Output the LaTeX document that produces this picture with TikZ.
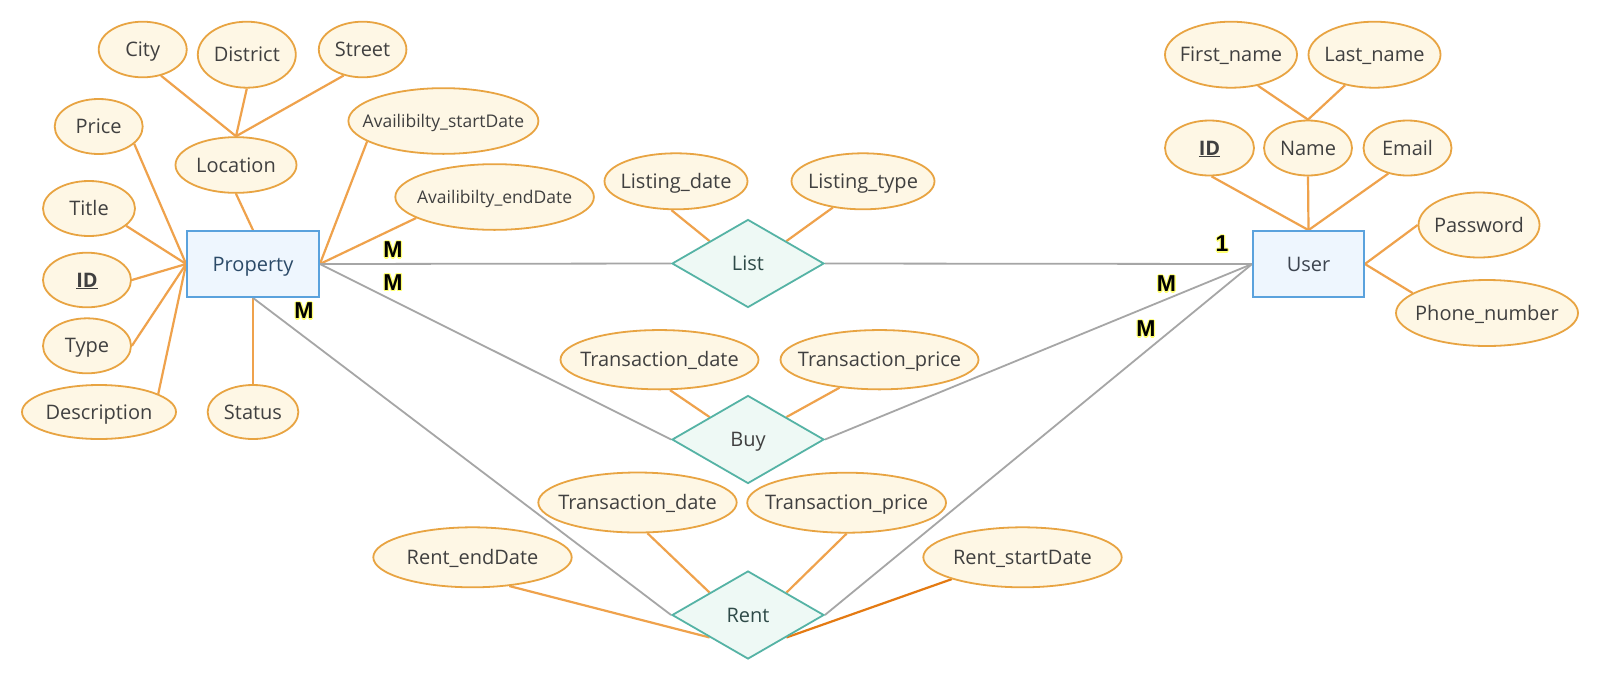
\documentclass[tikz,border=0pt]{standalone}
\usepackage{fontspec}
\setmainfont{Open Sans}
\newfontfamily\cardfont{Liberation Sans}
\usetikzlibrary{shapes.geometric,backgrounds}
\definecolor{attrfill}{HTML}{FEF7E5}
\definecolor{attrdraw}{HTML}{E8A442}
\definecolor{conn}{HTML}{EFA24C}
\definecolor{conndark}{HTML}{E47A12}
\definecolor{entfill}{HTML}{EEF6FE}
\definecolor{entdraw}{HTML}{5AA2DD}
\definecolor{relfill}{HTML}{EEF9F5}
\definecolor{reldraw}{HTML}{55B3A5}
\definecolor{grayline}{HTML}{A6A6A6}
\definecolor{txt}{HTML}{404040}
\definecolor{proptxt}{HTML}{2B4A68}
\definecolor{usertxt}{HTML}{3D4550}
\definecolor{reltxt}{HTML}{2E4A48}
\definecolor{halo}{HTML}{FFFF70}
\tikzset{
  attr/.style={ellipse, draw=attrdraw, fill=attrfill, line width=1.8pt, inner sep=0pt},
  attrtext/.style={font=\fontsize{20}{24}\selectfont, text=txt, inner sep=0pt,
    text height=14.3pt, text depth=0pt},
  smalltext/.style={font=\fontsize{17.5}{21}\selectfont, text=txt, inner sep=0pt,
    text height=12.5pt, text depth=0pt},
  entity/.style={rectangle, draw=entdraw, fill=entfill, line width=1.8pt, inner sep=0pt,
    minimum height=66pt, font=\fontsize{20}{24}\selectfont, text height=14.3pt, text depth=0pt},
  rel/.style={diamond, draw=reldraw, fill=relfill, line width=1.8pt, inner sep=0pt,
    minimum width=152pt, minimum height=88pt, font=\fontsize{20}{24}\selectfont,
    text height=14.3pt, text depth=0pt},
  aline/.style={draw=conn, line width=2.2pt},
  rline/.style={draw=grayline, line width=1.8pt},
  card/.style={font=\cardfont\bfseries\fontsize{23}{27}\selectfont, inner sep=0pt},
}
\newcommand\attrib[6][attrtext]{%
  \node[attr, minimum width=#4pt, minimum height=#5pt] (#2) at (#3) {};
  \node[#1] (#2-t) at (#2.center) {#6};}
\newcommand\cardlabel[3]{%
  \foreach \dx/\dy [count=\i] in {-1.2/0,1.2/0,0/-1.2,0/1.2,-0.85/-0.85,0.85/-0.85,-0.85/0.85,0.85/0.85}{
    \node[card, text=halo, xshift=\dx pt, yshift=\dy pt] (#1-h\i) at (#2) {#3};}
  \node[card, text=black] (#1) at (#2) {#3};}
\begin{document}
\begin{tikzpicture}[x=1pt, y=-1pt]
\useasboundingbox (0,0) rectangle (1600,681);
% entities
\node[entity, minimum width=132pt, text=proptxt] (P) at (253,264) {Property};
\node[entity, minimum width=111pt, text=usertxt] (U) at (1308.5,264) {User};
% relationships
\node[rel, text=reltxt] (L) at (748,263.5) {List};
\node[rel, text=txt] (B) at (748,439.5) {Buy};
\node[rel, text=reltxt] (R) at (748,615) {Rent};
% property attributes
\attrib{city}{142.7,49.5}{88}{55.6}{City}
\attrib{district}{246.8,54.7}{98}{66}{District}
\attrib{street}{362.6,49.5}{87.6}{55.6}{Street}
\attrib{price}{98.7,126.5}{88}{55}{Price}
\attrib{location}{236,165}{121}{55.7}{Location}
\attrib[smalltext]{availS}{443.4,121}{190}{65.7}{Availibilty\_startDate}
\attrib[smalltext]{availE}{494.6,197}{198.6}{65.7}{Availibilty\_endDate}
\attrib{title}{89,208.5}{92}{55}{Title}
\attrib{pid}{87,280}{88}{54.6}{\textbf{\underline{ID}}}
\attrib{ptype}{87,345.8}{88}{55}{Type}
\attrib{desc}{99,412}{154}{54}{Description}
\attrib{status}{253,412}{90.7}{54}{Status}
% user attributes
\attrib{fname}{1231,54.7}{132}{66}{First\_name}
\attrib{lname}{1374.5,54.7}{132}{66}{Last\_name}
\attrib{uid}{1209.5,148}{89}{55}{\textbf{\underline{ID}}}
\attrib{uname}{1308,148}{88}{55}{Name}
\attrib{email}{1407.5,148}{88}{55}{Email}
\attrib{pwd}{1479,225}{121}{65}{Password}
\attrib{phone}{1487,313}{182}{66}{Phone\_number}
% relationship attributes
\attrib{ldate}{676,181.3}{143}{56}{Listing\_date}
\attrib{ltype}{863,181.3}{143}{56}{Listing\_type}
\attrib{btd}{659.5,359.7}{198}{59.3}{Transaction\_date}
\attrib{btp}{879.5,359.7}{198}{59.3}{Transaction\_price}
\attrib{rtd}{637.5,502.5}{198.4}{60}{Transaction\_date}
\attrib{rtp}{846.6,502.7}{198.8}{60}{Transaction\_price}
\attrib{rend}{472.5,557.3}{198.4}{60}{Rent\_endDate}
\attrib{rstart}{1022.5,557.3}{198.4}{60}{Rent\_startDate}
% connectors (behind the shapes)
\begin{pgfonlayer}{background}
\fill[white] (0,0) rectangle (1600,681);
\draw[aline] (price.-26) -- (P.west);
\draw[aline] (title.-25) -- (P.west);
\draw[aline] (pid.east) -- (P.west);
\draw[aline] (ptype.east) -- (P.west);
\draw[aline] (desc.17) -- (P.west);
\draw[aline] (location.south) -- (P.north);
\draw[aline] (status.north) -- (P.south);
\draw[aline] (city.-55) -- (location.north);
\draw[aline] (district.south) -- (location.north);
\draw[aline] (street.-126) -- (location.north);
\draw[aline] (availS.-165) -- (P.east);
\draw[aline] (availE.-165) -- (P.east);
\draw[aline] (fname.-49) -- (uname.north);
\draw[aline] (lname.-134) -- (uname.north);
\draw[aline] (uid.-86) -- (U.north);
\draw[aline] (uname.south) -- (U.north);
\draw[aline] (email.-127) -- (U.north);
\draw[aline] (pwd.west) -- (U.east);
\draw[aline] (phone.165) -- (U.east);
\draw[aline] (ldate.-99) -- (L.north west);
\draw[aline] (ltype.-139) -- (L.north east);
\draw[aline] (btd.-71) -- (B.north west);
\draw[aline] (btp.-145) -- (B.north east);
\draw[aline] (rtd.-72) -- (R.north west);
\draw[aline] (rtp.south) -- (R.north east);
\draw[aline] (rend.-38) -- (R.south west);
\draw[aline, draw=conndark] (rstart.south west) -- (R.south east);
\draw[rline] (P.east) -- (L.west);
\draw[rline] (L.east) -- (U.west);
\draw[rline] (P.east) -- (B.west);
\draw[rline] (B.east) -- (U.west);
\draw[rline] (P.south) -- (R.west);
\draw[rline] (R.east) -- (U.west);
\end{pgfonlayer}
% cardinalities
\cardlabel{m1}{393,250}{M}
\cardlabel{m2}{393,282.5}{M}
\cardlabel{m3}{304,311}{M}
\cardlabel{one}{1222,244}{1}
\cardlabel{m4}{1166.5,284}{M}
\cardlabel{m5}{1146,329}{M}
\end{tikzpicture}
\end{document}
